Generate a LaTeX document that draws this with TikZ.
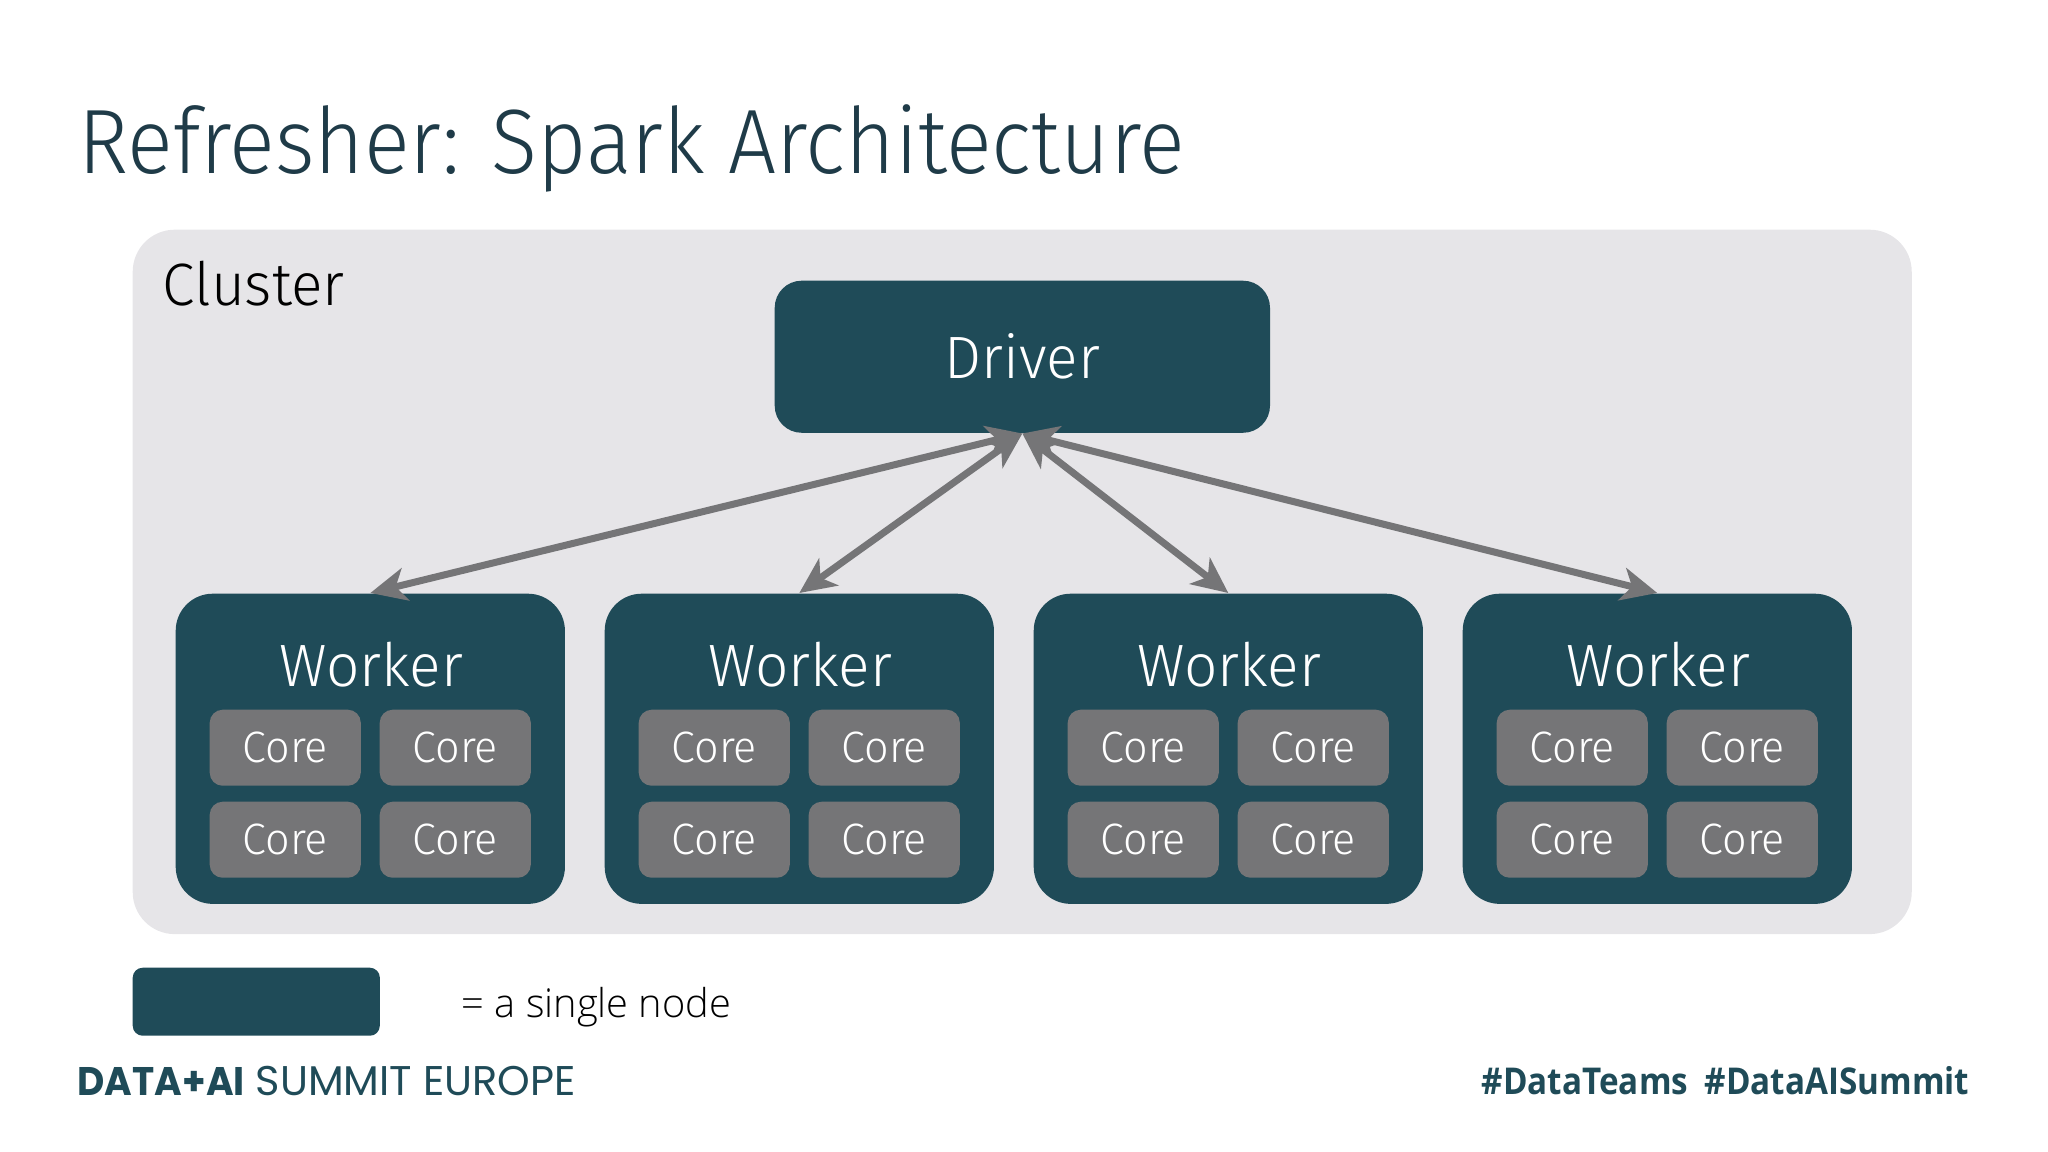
\documentclass[tikz,border=0pt]{standalone}
\usepackage{fontspec}
\usetikzlibrary{arrows.meta}
\setmainfont{Fira Sans Light}[FakeStretch=0.98]
\newfontfamily\titlefont{Fira Sans Light}[FakeStretch=0.93]
\newfontfamily\notefont{Open Sans Light}
\newfontfamily\brandfont{Poppins}
\newfontfamily\brandbold{Poppins}[FakeStretch=0.94]
\newfontfamily\tagfont{Open Sans}[FakeStretch=0.90]
\definecolor{teal}{HTML}{1F4B58}
\definecolor{coregray}{HTML}{757577}
\definecolor{clustergray}{HTML}{E6E5E8}
\definecolor{titleink}{HTML}{1F3B48}
\tikzset{
  clusterbox/.style={fill=clustergray, rounded corners=0.42cm, minimum width=17.78cm, minimum height=7.04cm, inner sep=0pt},
  driverbox/.style={fill=teal, rounded corners=0.27cm, minimum width=4.95cm, minimum height=1.52cm, inner sep=0pt, text=white, font=\fontsize{17}{17}\selectfont},
  workerbox/.style={fill=teal, rounded corners=0.37cm, minimum width=3.89cm, minimum height=3.10cm, inner sep=0pt},
  workertext/.style={text=white, inner sep=0pt, font=\fontsize{17}{17}\selectfont},
  corebox/.style={fill=coregray, rounded corners=0.13cm, minimum width=1.51cm, minimum height=0.76cm, inner sep=0pt, text=white, font=\fontsize{12.5}{12.5}\selectfont},
  link/.style={draw=coregray, line width=0.07cm, {Stealth[length=0.36cm,width=0.33cm,inset=0.1cm]}-{Stealth[length=0.36cm,width=0.33cm,inset=0.1cm]}}
}
\begin{document}
\begin{tikzpicture}[x=0.01cm,y=-0.01cm]
\useasboundingbox (0,0) rectangle (2048,1152);

\node[anchor=west, inner sep=0pt, text=titleink, font=\titlefont\fontsize{26}{26}\selectfont] (title) at (78,148) {Refresher: Spark Architecture};

\node[clusterbox, anchor=north west] (cluster) at (132,229) {};
\node[anchor=west, inner sep=0pt, text=black, font=\fontsize{17}{17}\selectfont] (clustertext) at (162,284) {Cluster};

\node[driverbox, anchor=north west] (driver) at (774,280) {Driver};

\foreach \i/\x in {1/175,2/604,3/1033,4/1462}{
\begin{scope}[shift={(\x,0)}]
\node[workerbox, anchor=north west] (worker\i) at (0,593) {};
\node[workertext] (workertext\i) at (196,665) {Worker};
\foreach \c/\cx/\cy in {a/34/709,b/204/709,c/34/801,d/204/801}{
\node[corebox, anchor=north west] (core\i\c) at (\cx,\cy) {Core};
}
\end{scope}
\draw[link] (driver.south) -- (worker\i.north);
}

\node[fill=teal, rounded corners=0.1cm, anchor=north west, minimum width=2.47cm, minimum height=0.68cm, inner sep=0pt] (legend) at (132,967) {};
\node[anchor=west, inner sep=0pt, text=black, font=\notefont\fontsize{11.3}{12}\selectfont] (legendtext) at (461,1007) {= a single node};

\node[anchor=west, inner sep=0pt, text=teal, font=\brandfont\fontsize{11.8}{12}\selectfont] (brand) at (77,1081) {{\brandbold\bfseries\fontsize{11.35}{12}\selectfont DATA+AI} SUMMIT EUROPE};
\node[anchor=east, inner sep=0pt, text=teal, font=\tagfont\bfseries\fontsize{10.5}{12}\selectfont] (tags) at (1970,1081) {\#DataTeams\hspace{0.08cm} \#DataAISummit};
\end{tikzpicture}
\end{document}
